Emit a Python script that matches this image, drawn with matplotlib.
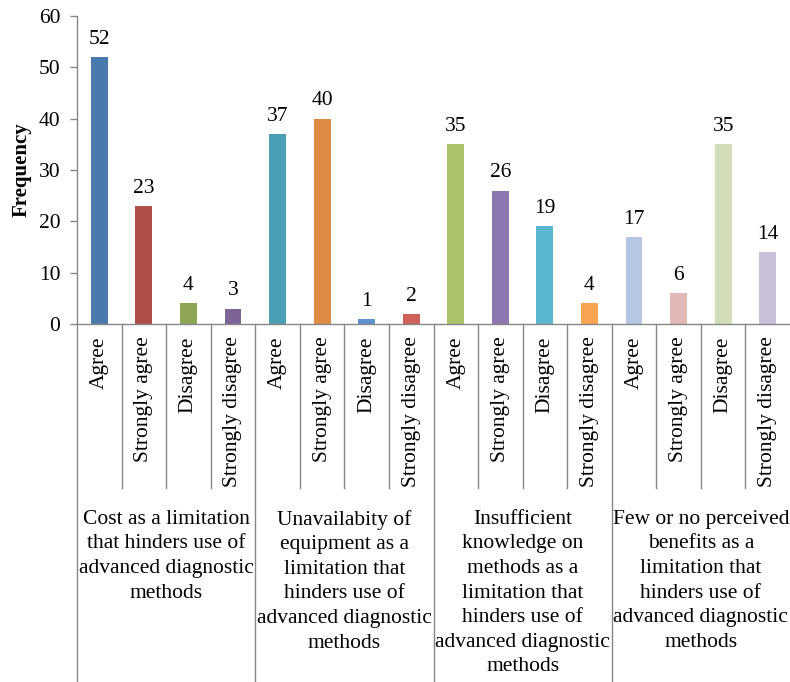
import numpy as np
import matplotlib.pyplot as plt
import matplotlib.transforms as mtransforms

plt.rcParams['font.family'] = ['Liberation Serif', 'DejaVu Serif']

groups = ['Cost as a limitation\nthat hinders use of\nadvanced diagnostic\nmethods',
          'Unavailabity of\nequipment as a\nlimitation that\nhinders use of\nadvanced diagnostic\nmethods',
          'Insufficient\nknowledge on\nmethods as a\nlimitation that\nhinders use of\nadvanced diagnostic\nmethods',
          'Few or no perceived\nbenefits as a\nlimitation that\nhinders use of\nadvanced diagnostic\nmethods']
responses = ['Agree', 'Strongly agree', 'Disagree', 'Strongly disagree']
values = [52, 23, 4, 3,
          37, 40, 1, 2,
          35, 26, 19, 4,
          17, 6, 35, 14]
colors = ['#4a7aab', '#ae5049', '#8ea556', '#7c6596',
          '#4a9fb4', '#de8b45', '#5b92cf', '#cf5f59',
          '#abc46a', '#8e77b1', '#5bb7cf', '#f8a553',
          '#b7c6e2', '#e2b8b6', '#d0ddb8', '#c8bfd8']

fs = 15.5
grey = '#868686'

fig = plt.figure(figsize=(7.9, 6.82), dpi=100)
ax = fig.add_axes([77 / 790, 358 / 682, 713 / 790, 308 / 682])

x = np.arange(len(values))
ax.bar(x, values, width=0.38, color=colors, zorder=2)

for xi, v in zip(x, values):
    ax.text(xi, v + 1.6, str(v), ha='center', va='bottom', fontsize=fs)

ax.set_xlim(-0.5, len(values) - 0.5)
ax.set_ylim(0, 60)
ax.set_yticks(range(0, 61, 10))
ax.tick_params(axis='y', labelsize=fs, length=5, width=1, color=grey, pad=7)
ax.set_xticks([])
ax.set_ylabel('Frequency', fontsize=15, fontweight='bold', labelpad=5)

for s in ['top', 'right']:
    ax.spines[s].set_visible(False)
for s in ['left', 'bottom']:
    ax.spines[s].set_color(grey)
    ax.spines[s].set_linewidth(1)

# category axis: response labels, group labels and separators
trans = mtransforms.blended_transform_factory(ax.transData, ax.transAxes)
n = len(responses)
for i in range(len(values)):
    ax.text(i, -0.04, responses[i % n], rotation=90, ha='center', va='top',
            fontsize=fs, transform=trans)

for b in np.arange(-0.5, len(values) - 0.5, 1.0):
    is_group = int(b + 0.5) % n == 0
    y_end = -1.2 if is_group else -0.532
    ax.plot([b, b], [0, y_end], color=grey, lw=1, transform=trans, clip_on=False)

for g, label in enumerate(groups):
    ax.text(g * n + (n - 1) / 2, -0.603, label, ha='center', va='top',
            fontsize=fs, linespacing=1.4, transform=trans)

fig.savefig('out.png', dpi=100)
